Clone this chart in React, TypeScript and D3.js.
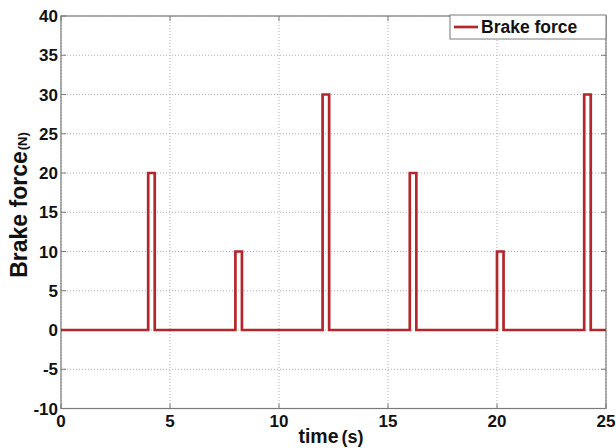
import React from "react";
import * as d3 from "d3";

const pulseStarts = [4.0, 8.0, 12.0, 16.0, 20.0, 24.0];
const pulseEnds = [4.3, 8.3, 12.3, 16.3, 20.3, 24.3];
const pulseValues = [20, 10, 30, 20, 10, 30];
const xTicks = [0, 5, 10, 15, 20, 25];
const yTicks = [-10, -5, 0, 5, 10, 15, 20, 25, 30, 35, 40];
const seriesName = "Brake force";

export default function App() {
  const W = 616, H = 448;
  const left = 61, right = 606, top = 16, bottom = 408.5;
  const x = d3.scaleLinear().domain([0, 25]).range([left, right]);
  const y = d3.scaleLinear().domain([-10, 40]).range([bottom, top]);

  const pts: [number, number][] = [[0, 0]];
  pulseStarts.forEach((s, i) => {
    pts.push([s, 0], [s, pulseValues[i]], [pulseEnds[i], pulseValues[i]], [pulseEnds[i], 0]);
  });
  pts.push([25, 0]);
  const line = d3.line<[number, number]>().x(d => x(d[0])).y(d => y(d[1]));

  const font = "Arial, 'Liberation Sans', sans-serif";
  const red = "#b3262b";

  return (
    <svg width={W} height={H} style={{ position: "absolute", left: 0, top: 0, background: "#fff" }} fontFamily={font}>
      <rect x={0} y={0} width={W} height={H} fill="#fff" />
      {xTicks.map(t => (
        <line key={"gx" + t} x1={x(t)} x2={x(t)} y1={top} y2={bottom} stroke="#b0b0b0" strokeWidth={1} strokeDasharray="1,2" />
      ))}
      {yTicks.map(t => (
        <line key={"gy" + t} x1={left} x2={right} y1={y(t)} y2={y(t)} stroke="#b0b0b0" strokeWidth={1} strokeDasharray="1,2" />
      ))}
      <rect x={left} y={top} width={right - left} height={bottom - top} fill="none" stroke="#7a7a7a" strokeWidth={1.2} />
      {yTicks.map(t => (
        <g key={"ty" + t}>
          <line x1={left} x2={left + 5} y1={y(t)} y2={y(t)} stroke="#7a7a7a" />
          <line x1={right} x2={right - 5} y1={y(t)} y2={y(t)} stroke="#7a7a7a" />
          <text x={58} y={y(t)} dy="0.36em" textAnchor="end" fontSize={17} fontWeight="bold" fill="#111">{t}</text>
        </g>
      ))}
      {xTicks.map(t => (
        <g key={"tx" + t}>
          <line x1={x(t)} x2={x(t)} y1={bottom} y2={bottom - 5} stroke="#7a7a7a" />
          <line x1={x(t)} x2={x(t)} y1={top} y2={top + 5} stroke="#7a7a7a" />
          <text x={x(t)} y={427} textAnchor="middle" fontSize={17} fontWeight="bold" fill="#111">{t}</text>
        </g>
      ))}
      <path d={line(pts) || ""} fill="none" stroke={red} strokeWidth={2.7} strokeLinejoin="miter" />
      <g>
        <rect x={450} y={top - 1} width={right - 450} height={24} fill="#fff" stroke="#7a7a7a" strokeWidth={1} />
        <line x1={454} x2={478} y1={27} y2={27} stroke={red} strokeWidth={2.7} />
        <text x={481} y={33} fontSize={17.5} fontWeight="bold" fill="#111">{seriesName}</text>
      </g>
      <text transform={`translate(27,205) rotate(-90)`} textAnchor="middle" fontWeight="bold" fill="#111">
        <tspan fontSize={23}>Brake force</tspan>
        <tspan fontSize={13} dx={1}>(N)</tspan>
      </text>
      <text x={331} y={443} textAnchor="middle" fontWeight="bold" fill="#111">
        <tspan fontSize={19.5}>time</tspan>
        <tspan fontSize={18} dx={3}>(s)</tspan>
      </text>
    </svg>
  );
}
